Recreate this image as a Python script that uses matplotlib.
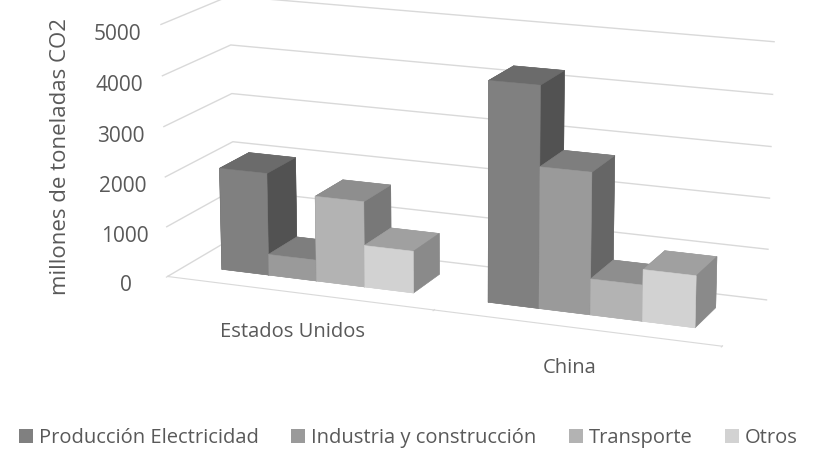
import numpy as np
import matplotlib
matplotlib.use('Agg')
from matplotlib import pyplot as plt
from matplotlib.patches import Patch

plt.rcParams['font.family'] = ['Open Sans', 'DejaVu Sans']

categories = ['Estados Unidos', 'China']
series = ['Producción Electricidad', 'Industria y construcción', 'Transporte', 'Otros']
elec = [2050, 4300]
industria = [420, 2750]
transporte = [1700, 700]
otros = [830, 1000]
yticks = [0, 1000, 2000, 3000, 4000, 5000]

# front, top, right face colours per series
front = ['#808080', '#9a9a9a', '#b3b3b3', '#d2d2d2']
top = ['#6b6b6b', '#7e7e7e', '#8e8e8e', '#a0a0a0']
side = ['#525252', '#666666', '#787878', '#8a8a8a']
txt = '#595959'

fig = plt.figure(figsize=(8.17, 4.54), dpi=100)
ax = fig.add_axes([0.06, 0.155, 1.0, 0.95], projection='3d')
ax.set_proj_type('persp', focal_length=1.2)
ax.view_init(elev=15, azim=-68)
ax.computed_zorder = False

catw = 5.5
depth = 2.5
values = [elec, industria, transporte, otros]

# camera sits right of the bars, so paint left to right
k = 0
for i in range(len(categories)):
    for j, vals in enumerate(values):
        x = i * catw + 0.75 + j
        # bottom, top, front, back, left, right
        cols = [front[j], top[j], front[j], top[j], side[j], side[j]]
        ax.bar3d([x], [0.7], [0], 1, 1.1, [vals[i]], color=cols, shade=False,
                 edgecolor=cols, linewidth=0.4, zorder=10 + k, clip_on=False)
        k += 1

ax.set_xlim(0, catw * len(categories))
ax.set_ylim(0, depth)
ax.set_zlim(0, 5000)
ax.set_box_aspect((4.6, 1.2, 2.05), zoom=1.5)

for a in (ax.xaxis, ax.yaxis, ax.zaxis):
    a.set_pane_color((1, 1, 1, 0))
    a.pane.set_edgecolor((1, 1, 1, 0))
ax.xaxis._axinfo['grid']['color'] = (1, 1, 1, 0)
ax.yaxis._axinfo['grid']['color'] = (1, 1, 1, 0)
ax.zaxis._axinfo['grid']['color'] = '#d9d9d9'
ax.zaxis._axinfo['grid']['linewidth'] = 1.0
ax.yaxis.line.set_color((1, 1, 1, 0))
ax.zaxis.line.set_color((1, 1, 1, 0))
ax.xaxis.line.set_color('#d9d9d9')
ax.set_yticks([])

ax.set_xticks(np.arange(len(categories) + 1) * catw)
ax.set_xticklabels([])
ax.set_xticks(np.arange(len(categories)) * catw + catw / 2, minor=True)
ax.set_xticklabels(categories, minor=True, fontsize=14.5, color=txt)
ax.xaxis.set_tick_params(which='minor', color=(1, 1, 1, 0), pad=8)
ax.xaxis.set_tick_params(which='major', color='#d9d9d9')

ax.set_zticks(yticks)
ax.set_zticklabels([str(v) for v in yticks], fontsize=15, color=txt)
ax.zaxis.set_ticks_position('lower')
ax.zaxis._axinfo['tick']['inward_factor'] = 0
ax.zaxis._axinfo['tick']['outward_factor'] = 0

fig.text(0.074, 0.655, 'millones de toneladas CO2', rotation=90, ha='center', va='center',
         fontsize=16, color=txt)

handles = [Patch(facecolor=c, edgecolor='none') for c in front]
fig.legend(handles, series, loc='center', bbox_to_anchor=(0.5, 0.035), ncol=4, frameon=False,
           fontsize=14.5, handlelength=0.7, handleheight=0.7, handletextpad=0.3,
           columnspacing=1.6, labelcolor=txt)

fig.savefig('out.png', dpi=100)
